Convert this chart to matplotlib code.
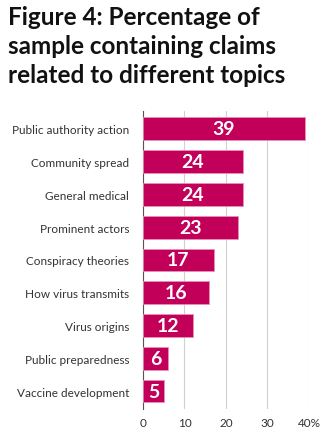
import matplotlib.pyplot as plt

topics = ['Public authority action', 'Community spread', 'General medical',
          'Prominent actors', 'Conspiracy theories', 'How virus transmits',
          'Virus origins', 'Public preparedness', 'Vaccine development']
values = [39, 24, 24, 23, 17, 16, 12, 6, 5]
ticks = [0, 10, 20, 30, 40]
tick_labels = ['0', '10', '20', '30', '40%']

color = '#C2005A'

fig = plt.figure(figsize=(3.29, 4.39), dpi=100)
ax = fig.add_axes([0.4347, 0.066, 0.5043, 0.679])

pos = list(range(len(topics)))
ax.barh(pos, values, height=0.7, color=color, edgecolor='#E890B8', linewidth=0.6, zorder=3)
for p, v in zip(pos, values):
    ax.text(v / 2, p, str(v), ha='center', va='center', color='white',
            fontsize=14, fontweight='bold', family='Lato', zorder=4)

ax.set_ylim(len(topics) - 0.45, -0.55)
ax.set_xlim(0, 40)
ax.set_yticks(pos)
ax.set_yticklabels(topics, fontsize=8.5, family='Lato', color='#333333')
ax.set_xticks(ticks)
ax.set_xticklabels(tick_labels, fontsize=8.5, family='Lato', color='#333333')
ax.tick_params(axis='both', length=0)
ax.tick_params(axis='y', pad=10)
ax.tick_params(axis='x', pad=6)
ax.grid(axis='x', color='#D0D0D0', linewidth=0.8, zorder=0)
for s in ['top', 'right', 'bottom']:
    ax.spines[s].set_visible(False)
ax.spines['left'].set_color('#555555')
ax.spines['left'].set_linewidth(0.8)

fig.text(0.025, 0.987, 'Figure 4: Percentage of\nsample containing claims\nrelated to different topics',
         ha='left', va='top', fontsize=17.5, fontweight='bold', family='Lato',
         color='#111111', linespacing=1.32)

fig.savefig('out.png', dpi=100)
